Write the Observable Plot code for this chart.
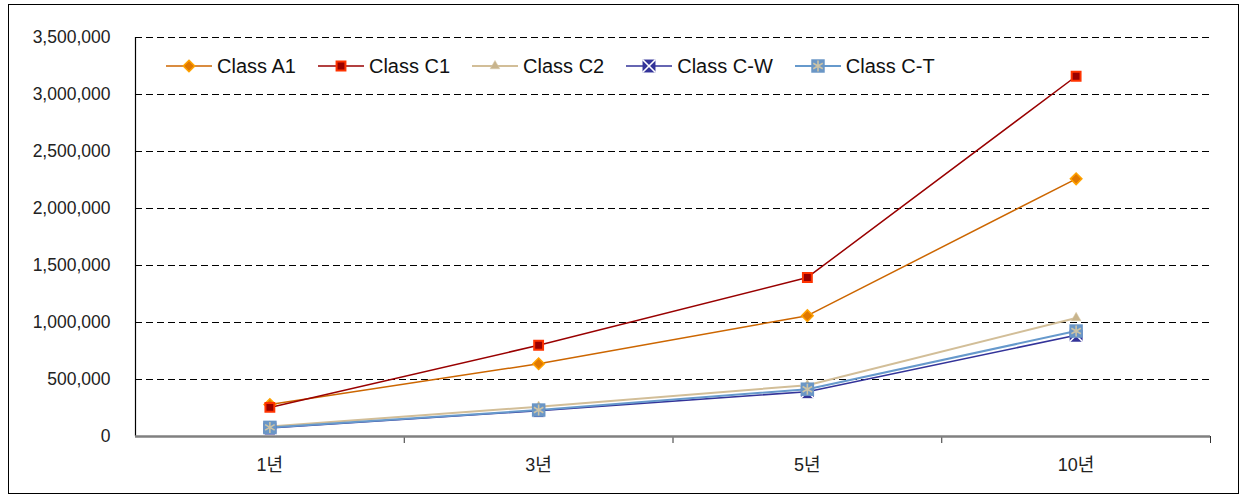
<!DOCTYPE html>
<html><head><meta charset="utf-8">
<script src="https://cdn.jsdelivr.net/npm/d3@7"></script>
<script src="https://cdn.jsdelivr.net/npm/@observablehq/plot@0.6"></script>
<style>
body{margin:0;background:#fff;}
#wrap{position:relative;width:1242px;height:497px;overflow:hidden;}
#border{position:absolute;left:8px;top:4px;width:1231px;height:490px;border:1px solid #000;box-sizing:border-box;pointer-events:none;}
#chart{position:absolute;left:0;top:0;}
#legend{position:absolute;left:166px;top:54px;height:24px;display:flex;align-items:center;font-family:"Liberation Sans","Noto Sans CJK KR",sans-serif;font-size:20px;color:#111;white-space:nowrap;}
#legend .item{display:flex;align-items:center;margin-right:22px;}
#legend svg{margin-right:5px;}
</style></head>
<body><div id="wrap"><div id="chart"></div><div id="legend"></div><div id="border"></div></div>
<script>
// ---- data ----
const years = ["1년", "3년", "5년", "10년"];
const seriesNames = ["Class A1", "Class C1", "Class C2", "Class C-W", "Class C-T"];
const classA1 = [280000, 638000, 1060000, 2260000];
const classC1 = [255000, 800000, 1395000, 3160000];
const classC2 = [88000, 262000, 450000, 1040000];
const classCW = [74000, 227000, 393000, 888000];
const classCT = [80000, 232000, 415000, 925000];
const yTicks = [0, 500000, 1000000, 1500000, 2000000, 2500000, 3000000, 3500000];

const seriesValues = [classA1, classC1, classC2, classCW, classCT];
const rows = [];
seriesNames.forEach((s, k) => seriesValues[k].forEach((v, i) => rows.push({series: s, i, value: v})));
const bySeries = s => rows.filter(d => d.series === s);

// ---- styles ----
const styles = {
  "Class A1": {color: "#CC6600", width: 1.5, markers: [{symbol: "diamond2", r: 5.2, fill: "#E07800", stroke: "#FFA200", sw: 1.5}]},
  "Class C1": {color: "#990000", width: 1.5, markers: [{symbol: "square", r: 5.0, fill: "#990000", stroke: "#FF3300", sw: 2}]},
  "Class C2": {color: "#D2BE98", width: 2, markers: [{symbol: "triangle", r: 3.6, fill: "#C8B48C", stroke: "#D9C9A6", sw: 0.5}]},
  "Class C-W": {color: "#333399", width: 1.6, markers: [{symbol: "square", r: 7.3, fill: "#333399", stroke: "none", sw: 0}, {symbol: "times", r: 6.0, fill: "none", stroke: "#FFFFFF", sw: 1.6}]},
  "Class C-T": {color: "#6699CC", width: 2, markers: [{symbol: "square", r: 7.6, fill: "#6A96C6", stroke: "none", sw: 0}, {symbol: "asterisk", r: 5.2, fill: "none", stroke: "#CCC3A6", sw: 1.6}]}
};

const font = '"Liberation Sans","Noto Sans CJK KR",sans-serif';
const marks = [
  Plot.gridY(yTicks.filter(v => v > 0), {stroke: "#000", strokeOpacity: 1, strokeDasharray: "7,4", strokeWidth: 1}),
  Plot.axisY(yTicks, {tickSize: 0, tickPadding: 25, tickFormat: d3.format(","), label: null, fontSize: 17.5, fill: "#222", style: "letter-spacing:0.6px"}),
  Plot.axisY(yTicks, {tickSize: -5, tickFormat: () => "", label: null, stroke: "#000"}),
  Plot.ruleX([-0.5], {stroke: "#000", strokeWidth: 1.2}),
  Plot.axisX(years.map((_, i) => i + 0.5), {tickSize: 7, tickFormat: () => "", label: null, stroke: "#333"}),
  Plot.axisX(years.map((_, i) => i), {tickSize: 0, tickPadding: 22, tickFormat: i => years[i], label: null, fontSize: 18, fill: "#222"}),
  Plot.ruleY([0], {stroke: "#808080", strokeWidth: 2.5})
];
for (const s of seriesNames) {
  marks.push(Plot.line(bySeries(s), {x: "i", y: "value", stroke: styles[s].color, strokeWidth: styles[s].width}));
}
for (const s of seriesNames) {
  for (const m of styles[s].markers) {
    marks.push(Plot.dot(bySeries(s), {x: "i", y: "value", symbol: () => m.symbol, r: m.r, fill: m.fill, stroke: m.stroke, strokeWidth: m.sw}));
  }
}

const chart = Plot.plot({
  width: 1242, height: 497,
  marginLeft: 135, marginRight: 32, marginTop: 37, marginBottom: 61,
  style: {fontFamily: font, background: "transparent"},
  x: {type: "linear", domain: [-0.5, years.length - 0.5], axis: null},
  y: {domain: [0, 3500000], axis: null},
  symbol: {type: "identity"},
  marks
});
document.getElementById("chart").appendChild(chart);

// ---- legend ----
const symbolMap = {square: d3.symbolSquare, diamond2: d3.symbolDiamond2, triangle: d3.symbolTriangle, times: d3.symbolTimes, asterisk: d3.symbolAsterisk};
const legend = d3.select("#legend");
for (const s of seriesNames) {
  const st = styles[s];
  const item = legend.append("div").attr("class", "item");
  const svg = item.append("svg").attr("width", 46).attr("height", 20);
  svg.append("line").attr("x1", 0).attr("x2", 46).attr("y1", 10).attr("y2", 10).attr("stroke", st.color).attr("stroke-width", st.width);
  for (const m of st.markers) {
    svg.append("path").attr("transform", "translate(23,10)")
      .attr("d", d3.symbol(symbolMap[m.symbol], Math.PI * m.r * m.r)())
      .attr("fill", m.fill).attr("stroke", m.stroke).attr("stroke-width", m.sw);
  }
  item.append("span").text(s);
}
</script></body></html>
